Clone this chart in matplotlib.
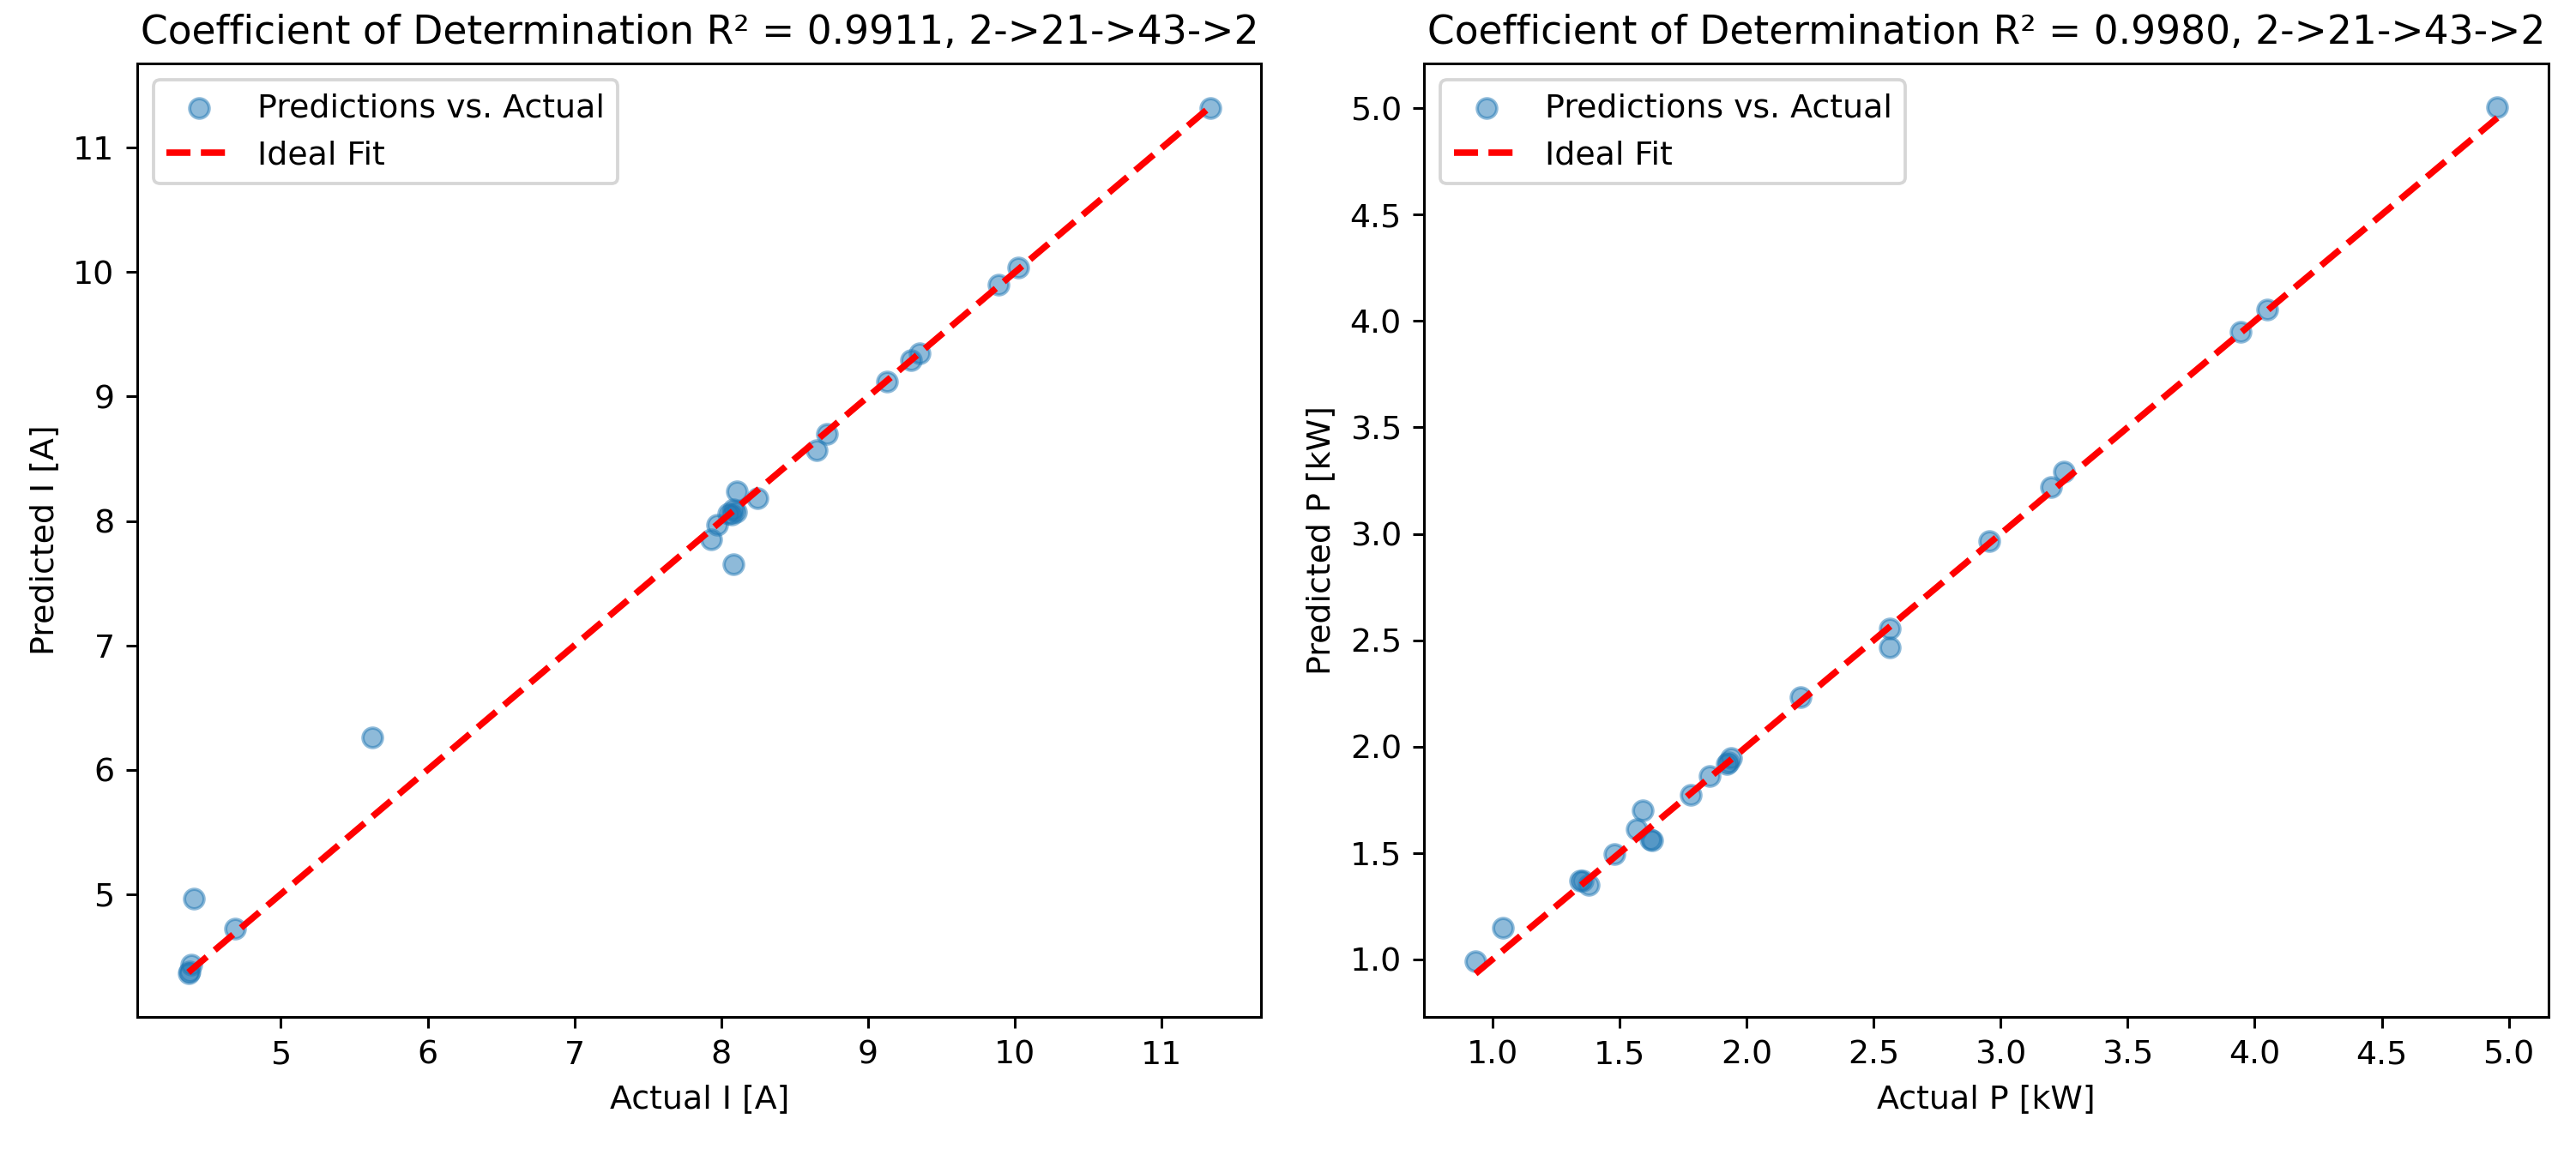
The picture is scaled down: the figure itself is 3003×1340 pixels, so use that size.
import matplotlib
matplotlib.use("Agg")
import matplotlib.pyplot as plt

# Left panel: current I [A]
actual_I = [11.33, 10.02, 9.89, 9.35, 9.29, 9.13, 8.72, 8.65, 8.105, 8.245,
            8.05, 8.08, 8.10, 8.07, 7.97, 7.93, 8.08, 5.62, 4.41, 4.69,
            4.39, 4.38, 4.37]
pred_I = [11.32, 10.04, 9.90, 9.35, 9.29, 9.12, 8.70, 8.57, 8.24, 8.18,
          8.06, 8.09, 8.07, 8.05, 7.97, 7.85, 7.655, 6.26, 4.96, 4.72,
          4.43, 4.38, 4.36]

# Right panel: power P [kW]
actual_P = [4.955, 4.049, 3.943, 3.250, 3.198, 2.956, 2.563, 2.565, 2.214,
            1.939, 1.928, 1.922, 1.853, 1.782, 1.592, 1.566, 1.620, 1.628,
            1.480, 1.345, 1.355, 1.378, 1.041, 0.933]
pred_P = [5.007, 4.054, 3.951, 3.294, 3.218, 2.964, 2.555, 2.465, 2.233,
          1.948, 1.927, 1.918, 1.860, 1.773, 1.699, 1.612, 1.563, 1.558,
          1.497, 1.370, 1.372, 1.350, 1.148, 0.993]

titles = ["Coefficient of Determination R\u00b2 = 0.9911, 2->21->43->2",
          "Coefficient of Determination R\u00b2 = 0.9980, 2->21->43->2"]
xlabels = ["Actual I [A]", "Actual P [kW]"]
ylabels = ["Predicted I [A]", "Predicted P [kW]"]

DPI = 273
fig, axes = plt.subplots(1, 2, figsize=(3003 / DPI, 1340 / DPI), dpi=DPI)
fig.subplots_adjust(left=0.0533, right=0.9893, bottom=0.1149, top=0.9448, wspace=0.145)

for ax, xa, ya, t, xl, yl in zip(axes, [actual_I, actual_P], [pred_I, pred_P],
                                 titles, xlabels, ylabels):
    ax.scatter(xa, ya, s=36, alpha=0.5, label="Predictions vs. Actual")
    lo, hi = min(xa), max(xa)
    ax.plot([lo, hi], [lo, hi], "r--", lw=2, label="Ideal Fit")
    ax.set_title(t)
    ax.set_xlabel(xl)
    ax.set_ylabel(yl)
    ax.legend(loc="upper left")

fig.savefig("out.png", dpi=DPI)
